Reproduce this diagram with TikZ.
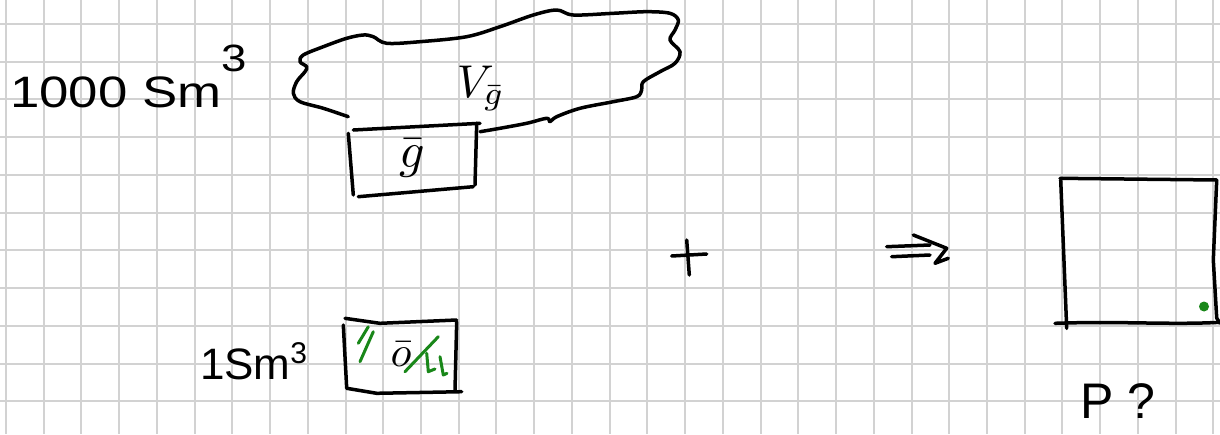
\documentclass[tikz,border=0pt]{standalone}
\usepackage{fontspec}
\setmainfont{Liberation Sans}
\definecolor{hgreen}{RGB}{25,135,25}
\definecolor{gridgray}{RGB}{210,210,210}
\begin{document}
\begin{tikzpicture}[x=1pt,y=-1pt,
  ink/.style={line width=3.5pt, line cap=round, line join=round},
  gridline/.style={draw=gridgray, line width=2pt},
  hatch/.style={draw=hgreen, line width=3pt, line cap=round, line join=round},
  hand/.style={inner sep=0pt, outer sep=0pt}]
\useasboundingbox (0,0) rectangle (1220,434);
\fill[white] (0,0) rectangle (1220,434);
% grid
\foreach \k in {0,...,32} \draw[gridline] ({6+37.73*\k},0) -- ({6+37.73*\k},434);
\foreach \k in {0,...,10} \draw[gridline] (0,{24+37.73*\k}) -- (1220,{24+37.73*\k});

% labels
\node[hand, anchor=base west, xscale=1.2, transform shape, font=\fontsize{44}{44}\selectfont] (vol1) at (10,107) {1000 Sm\raisebox{0.8em}{\fontsize{38}{38}\selectfont 3}};
\node[hand, anchor=base west, font=\fontsize{44}{44}\selectfont] (vol2) at (200,379) {1Sm\raisebox{0.35em}{\fontsize{30}{30}\selectfont 3}};
\node[hand, anchor=base west, font=\fontsize{50}{50}\selectfont] (pq) at (1080,418) {P ?};

% cloud (gas volume)
\draw[ink] plot[smooth, tension=0.55] coordinates {
 (348.3,116.7) (323.3,108.3) (300,101.7) (293.3,93.3) (296.7,81.7) (305,71.7)
 (306.7,66.7) (300,61.7) (303.3,55) (323.3,46.7) (346.7,38.3) (363.3,35)
 (373.3,36.7) (386.7,43.3) (420,41.7) (466.7,36.7) (500,26.7) (533.3,15)
 (556.7,10) (573.3,15) (613.3,13.3) (646.7,11.7) (670,13.3) (678.3,20)
 (675,30) (670,40) (680,51.7) (675,63.3) (660,71.7) (643.3,81.7) (641.7,90)
 (636.7,96.7) (613.3,101.7) (580,108.3) (556.7,116.7) (550,121.7) (546.7,118.3)
 (526.7,123.3) (500,128.3) (480,131.7)};
\node[hand] (vg) at (481,88) {\scalebox{4.6}{$V_{\bar g}$}};

% small gas box
\draw[ink] (353.3,130) -- (480,123.3);
\draw[ink] (348.3,133.3) -- (353.3,195);
\draw[ink] (358.3,196.7) -- (473.3,186.7);
\draw[ink] (476.7,123.3) -- (475,185);
\node[hand] (gbar) at (412,158) {\scalebox{5}{$\bar g$}};

% oil box
\draw[ink] (345,318.3) -- (380,323.3) -- (456.7,320);
\draw[ink] (343.3,325) -- (346.7,388.3) -- (376.7,393.3) -- (461.7,391.7);
\draw[ink] (456.7,321.7) -- (455,390);
\node[hand] (obar) at (401,354) {\scalebox{4.3}{$\bar o$}};
\draw[hatch] (358.3,343.3) -- (368.3,326.7);
\draw[hatch] (360,361.7) -- (373.3,331.7);
\draw[hatch] (405,371.7) -- (438.3,336.7);
\draw[hatch] (426.7,353.3) -- (428.3,371.7) -- (435,369);
\draw[hatch] (440,356.7) -- (443.3,375) -- (447,373.3);

% plus
\draw[ink] (671.7,256) -- (706.7,254);
\draw[ink] (686.7,240) -- (689.3,275);

% implies arrow
\draw[ink] (886.7,246.7) -- (930,245);
\draw[ink] (891.7,256.7) -- (930,255);
\draw[ink] (913.3,235) -- (946.7,248.3) -- (935,263.3) -- (948.3,258.3);

% big square
\draw[ink] (1060,178.3) -- (1216.7,180);
\draw[ink] (1060.7,180) -- (1066.7,328.3);
\draw[ink] (1055,323.3) .. controls (1120,321) and (1170,325) .. (1220,322.3);
\draw[ink] (1216.7,180) -- (1213.3,260) -- (1216.7,318) -- (1220,323.3);
\fill[hgreen] (1204,306.5) circle (5);
\end{tikzpicture}
\end{document}
